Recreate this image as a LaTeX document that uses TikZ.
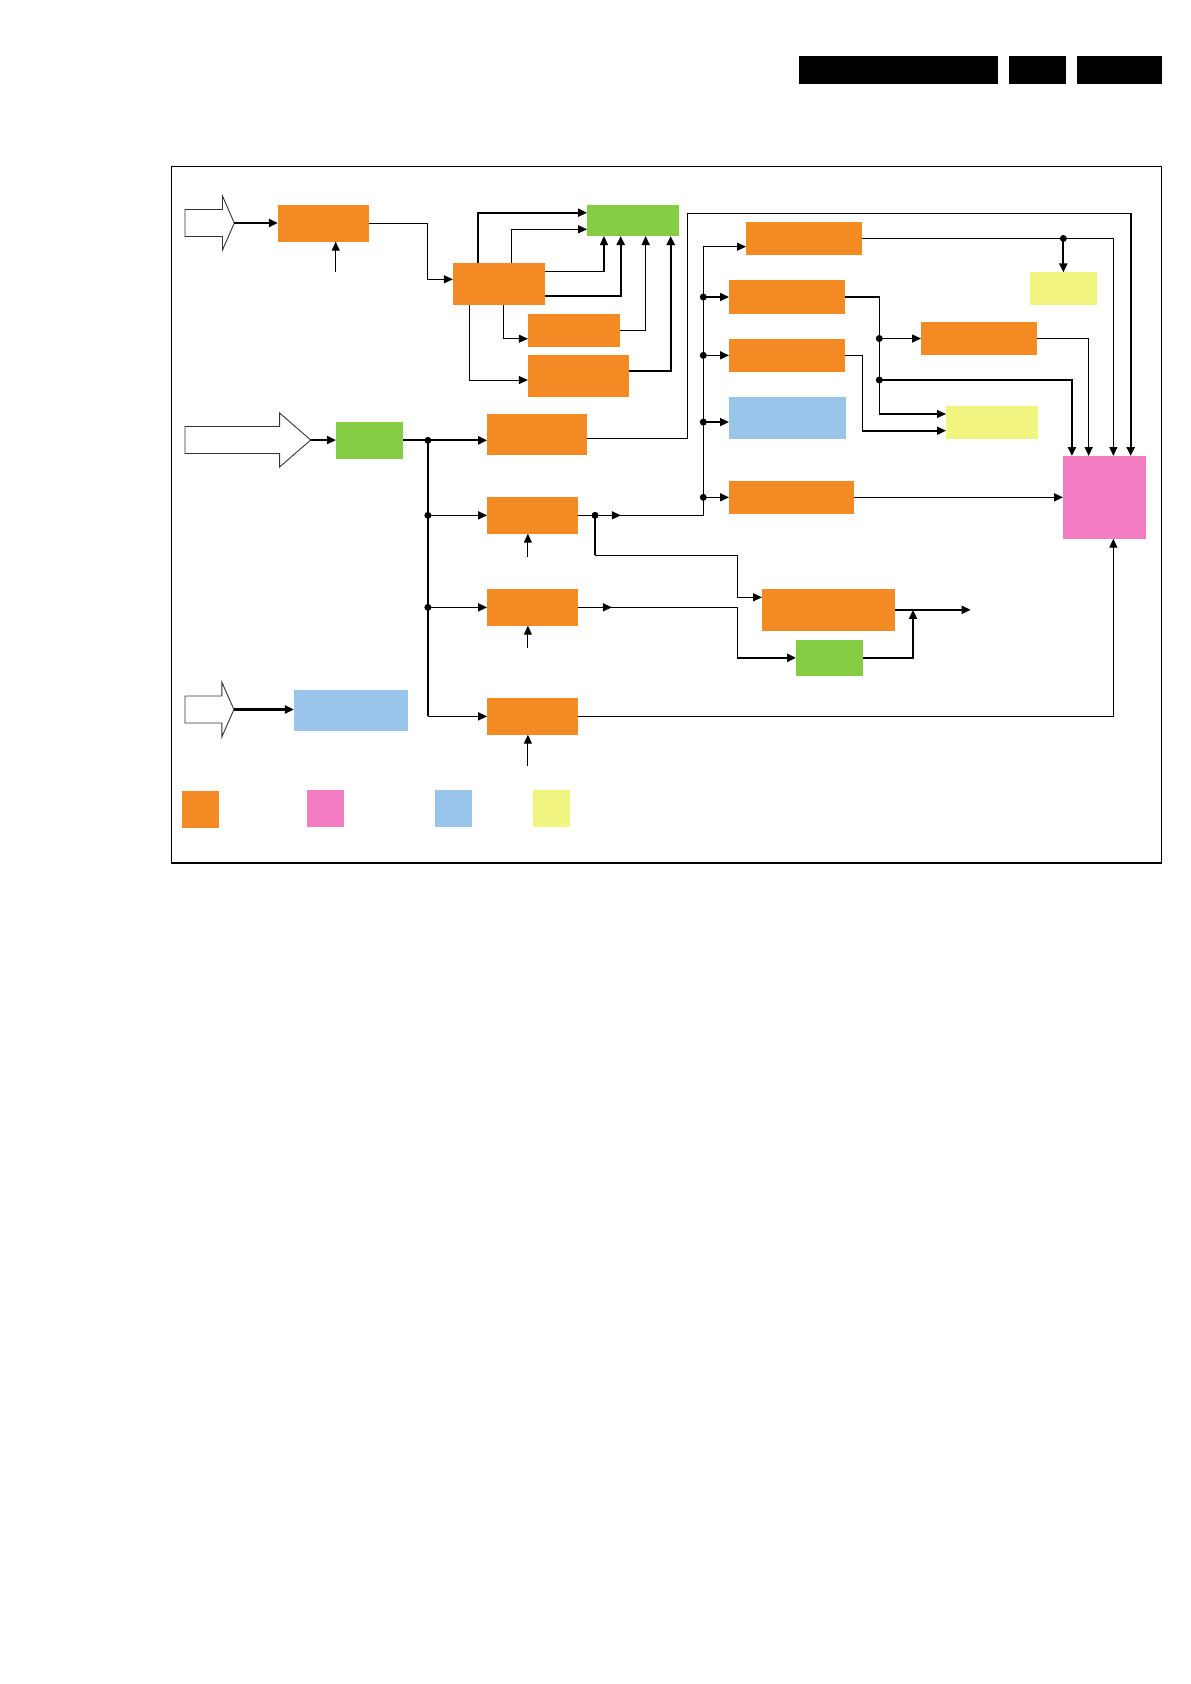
\documentclass[tikz,border=0pt]{standalone}
\usetikzlibrary{arrows.meta}
\definecolor{blkorange}{HTML}{F48A24}
\definecolor{blkgreen}{HTML}{84CD44}
\definecolor{blkblue}{HTML}{9AC5EB}
\definecolor{blkyellow}{HTML}{F1F57F}
\definecolor{blkpink}{HTML}{F47CC3}
\begin{document}
\begin{tikzpicture}[x=1pt,y=-1pt,
  box/.style 2 args={inner sep=0pt,outer sep=0pt,minimum width=#1pt,minimum height=#2pt},
  ln/.style={line width=1.1pt},
  md/.style={line width=1.6pt},
  thk/.style={line width=2.2pt},
  inarrow/.style={line width=0.9pt,draw=black!80,fill=white},
  >={Triangle[length=9pt,width=8pt]}]
\useasboundingbox (0,0) rectangle (1191,1684);
% header bars
\fill (799,56) rectangle (998,83.7);
\fill (1009,56) rectangle (1066,83.7);
\fill (1077,56) rectangle (1162,83.7);
% frame
\draw[ln] (171.4,166.7) rectangle (1161.7,863.3);
\draw[thk] (171.4,863.3) -- (1161.7,863.3);
% input arrows
\draw[inarrow] (185,209.5) -- (222.5,209.5) -- (222.5,196) -- (234.3,223) -- (222.5,250) -- (222.5,236.5) -- (185,236.5) -- cycle;
\draw[inarrow] (185,426.5) -- (279.6,426.5) -- (279.6,413) -- (310.7,440) -- (279.6,467) -- (279.6,453.5) -- (185,453.5) -- cycle;
\draw[inarrow] (185,696) -- (221.8,696) -- (221.8,682) -- (233.9,709.5) -- (221.8,737) -- (221.8,723) -- (185,723) -- cycle;
\coordinate (in1) at (234.3,223);
\coordinate (in2) at (310.7,440);
\coordinate (in3) at (233.9,709.5);
% blocks
\node[box={91}{36.7},fill=blkorange] (a1) at (323.4,223.35) {};
\node[box={92.1}{41.4},fill=blkorange] (b1) at (498.95,284) {};
\node[box={91.5}{31},fill=blkgreen] (g1) at (632.85,220.5) {};
\node[box={92.1}{32.7},fill=blkorange] (c1) at (573.95,330.35) {};
\node[box={100.7}{41.7},fill=blkorange] (c2) at (578.25,375.85) {};
\node[box={66.9}{36.7},fill=blkgreen] (g2) at (369.45,440.35) {};
\node[box={100}{40.7},fill=blkorange] (d1) at (537.1,434.35) {};
\node[box={90.8}{36.7},fill=blkorange] (d2) at (532.5,515.35) {};
\node[box={90.8}{36.7},fill=blkorange] (d3) at (532.5,607.35) {};
\node[box={90.8}{36.7},fill=blkorange] (d4) at (532.5,716.35) {};
\node[box={114}{40.7},fill=blkblue] (bl2) at (350.9,710.35) {};
\node[box={116}{33},fill=blkorange] (e1) at (804,238.5) {};
\node[box={116}{34},fill=blkorange] (e2) at (787,297) {};
\node[box={116}{32.7},fill=blkorange] (e3) at (787,355.35) {};
\node[box={117}{41.7},fill=blkblue] (bl1) at (787.5,417.85) {};
\node[box={125}{32.7},fill=blkorange] (e4) at (791.5,497.35) {};
\node[box={66.7}{32.4},fill=blkyellow] (y1) at (1063.35,288.5) {};
\node[box={116}{32.4},fill=blkorange] (e5) at (979,338.5) {};
\node[box={91.7}{32.7},fill=blkyellow] (y2) at (991.85,422.35) {};
\node[box={82.7}{82.7},fill=blkpink] (pk) at (1104.35,497.35) {};
\node[box={133}{41.7},fill=blkorange] (f1) at (828.5,609.85) {};
\node[box={67}{35.7},fill=blkgreen] (g3) at (829.5,657.85) {};
% legend
\node[box={36.8}{36.7},fill=blkorange] (lgorg) at (200.5,809.35) {};
\node[box={36.8}{36.7},fill=blkpink] (lgpnk) at (325.5,808.35) {};
\node[box={36.8}{36.7},fill=blkblue] (lgblu) at (453.4,808.35) {};
\node[box={36.8}{36.7},fill=blkyellow] (lgylw) at (551.25,808.35) {};
% top input path
\draw[thk,->] (in1) -- (in1 -| a1.west);
\coordinate (a1ctl) at (335.7,272);
\draw[ln,->] (a1ctl) -- (a1ctl |- a1.south);
\draw[ln,->] (a1.east) -| ([xshift=-25pt,yshift=4.7pt]b1.west) -- ([yshift=4.7pt]b1.west);
\draw[thk,->] ([xshift=-21pt]b1.north) |- ([yshift=7.8pt]g1.west);
\draw[ln,->] ([xshift=12.9pt]b1.north) |- ([yshift=-8.8pt]g1.west);
\draw[ln,->] ([yshift=12.7pt]b1.east) -| ([xshift=-28.9pt]g1.south);
\draw[thk,->] ([yshift=-12.3pt]b1.east) -| ([xshift=-12.2pt]g1.south);
\draw[md,->] (c1.east) -| ([xshift=12.8pt]g1.south);
\draw[thk,->] ([yshift=4.5pt]c2.east) -| ([xshift=37.8pt]g1.south);
\draw[ln,->] ([xshift=-29.7pt]b1.south) |- ([yshift=-4.2pt]c2.west);
\draw[ln,->] ([xshift=4.6pt]b1.south) |- ([yshift=-8.4pt]c1.west);
% second input and bus
\draw[thk,->] (in2) -- (in2 -| g2.west);
\coordinate (bus) at (427.9,440.35);
\draw[thk,->] (g2.east) -- (g2.east -| d1.west);
\draw[thk] (bus) -- (bus |- d4.west);
\foreach \n in {d2,d3,d4} \draw[md,->] (bus |- \n.west) -- (\n.west);
\foreach \c in {bus,bus |- d2.west,bus |- d3.west} \fill (\c) circle[radius=3.5pt];
\foreach \n/\l in {d2/23,d3/22.6,d4/31} \draw[ln,->] ([xshift=-4.6pt,yshift=-\l pt]\n.south) -- ([xshift=-4.6pt]\n.south);
% loop over the top to the pink block
\coordinate (loopa) at (687.5,213.3);
\coordinate (loopb) at (1130.7,213.3);
\draw[ln] ([yshift=-4pt]d1.east) -| (loopa) -- (loopb);
\draw[thk,->] (loopb) -- (loopb |- pk.north);
% second bus
\coordinate (b2top) at (703.3,246.7);
\draw[ln,->] (d2.east) -| (b2top) -- (b2top -| e1.west);
\draw[ln,->] (d2.east) -- ++(43,0);
\foreach \n in {e2,e3,e4} {
  \fill (b2top |- \n.west) circle[radius=3.5pt];
  \draw[md,->] (b2top |- \n.west) -- (\n.west);
}
\coordinate (bl1in) at ([yshift=-4.2pt]bl1.west);
\fill (b2top |- bl1in) circle[radius=3.5pt];
\draw[md,->] (b2top |- bl1in) -- (bl1in);
% taps to lower right
\coordinate (tap) at (595,515.35);
\coordinate (tapb) at (595,555.3);
\coordinate (tapc) at (737.3,597.3);
\fill (tap) circle[radius=3.5pt];
\draw[thk] (tap) -- (tapb);
\draw[ln,->] (tapb) -| (tapc) -- (tapc -| f1.west);
\draw[ln,->] (d3.east) -- ++(34,0);
\coordinate (d3c) at (737.3,657.85);
\draw[ln] (d3.east) -| (d3c);
\draw[thk,->] (d3c) -- (g3.west);
\coordinate (fj) at (913,609.85);
\coordinate (fend) at (970.7,609.85);
\draw[md,->] (g3.east) -| (fj);
\draw[md,->] (f1.east) -- (fend);
\draw[ln,->] (d4.east) -| ([xshift=9pt]pk.south);
% right part
\draw[ln,->] (e1.east) -| ([xshift=9pt]pk.north);
\coordinate (y1tap) at (y1.north |- e1.east);
\fill (y1tap) circle[radius=3.5pt];
\draw[thk,->] (y1tap) -- (y1.north);
\coordinate (b3bot) at (879.3,414);
\draw[ln,->] (e2.east) -| (b3bot) -- (b3bot -| y2.west);
\fill (b3bot |- e5.west) circle[radius=3.5pt];
\draw[md,->] (b3bot |- e5.west) -- (e5.west);
\coordinate (b3mid) at (879.3,380);
\fill (b3mid) circle[radius=3.5pt];
\draw[thk,->] (b3mid) -| ([xshift=-32.4pt]pk.north);
\draw[md,->] (e5.east) -| ([xshift=-15.7pt]pk.north);
\draw[md,->] (e3.east) -| ([xshift=-83.7pt,yshift=-8.35pt]y2.west) -- ([yshift=-8.35pt]y2.west);
\draw[md,->] (e4.east) -- (pk.west);
% third input
\draw[thk,->] (in3) -- (in3 -| bl2.west);
\end{tikzpicture}
\end{document}
